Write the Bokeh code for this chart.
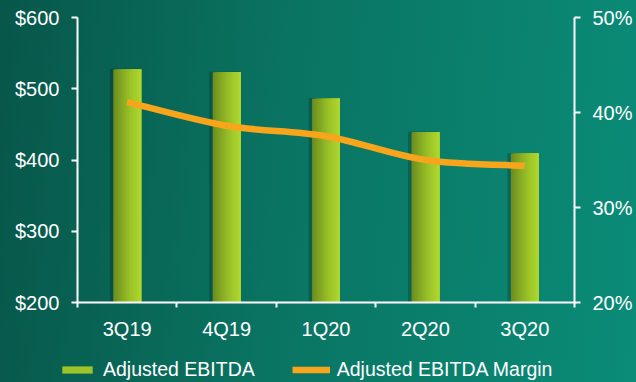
import numpy as np
from bokeh.plotting import figure
from bokeh.models import (Range1d, LinearAxis, FixedTicker, PrintfTickFormatter,
                          CustomJSTickFormatter, ColumnDataSource, Legend, LegendItem)
from bokeh.embed import file_html
from bokeh.resources import INLINE

# ---- data ----
quarters = ["3Q19", "4Q19", "1Q20", "2Q20", "3Q20"]
ebitda = [527, 523, 486, 439, 409]          # $ millions
margin_pct = [41.1, 38.6, 37.5, 35.0, 34.4]  # %
usd_ticks = [200, 300, 400, 500, 600]
pct_ticks = [20, 30, 40, 50]

FONT = "Liberation Sans"
WHITE = "#ffffff"
ORANGE = "#f9a51b"

# ---- layout: the frame covers the whole canvas, axes are pinned inside it ----
W, H = 636, 382
plot_l, plot_r, plot_t, plot_b = 77, 574, 17, 302   # pixel box of the axes area
ncat = len(quarters)
px_x = (plot_r - plot_l) / ncat
x_start = -plot_l / px_x
x_end = ncat + (W - plot_r) / px_x
usd_per_px = (usd_ticks[-1] - usd_ticks[0]) / (plot_b - plot_t)
y_start = usd_ticks[0] - (H - plot_b) * usd_per_px
y_end = usd_ticks[-1] + plot_t * usd_per_px
pct_per_px = (pct_ticks[-1] - pct_ticks[0]) / (plot_b - plot_t)
p_start = pct_ticks[0] - (H - plot_b) * pct_per_px
p_end = pct_ticks[-1] + plot_t * pct_per_px

p = figure(width=W, height=H, x_range=Range1d(x_start, x_end),
           y_range=Range1d(y_start, y_end),
           output_backend="svg", toolbar_location=None, min_border=0)
p.extra_y_ranges = {"pct": Range1d(p_start, p_end)}
p.background_fill_alpha = 0
p.border_fill_alpha = 0
p.outline_line_color = None
p.grid.visible = False
p.styles = {"background": "linear-gradient(95deg, #07574a 0%, #0a7462 45%, #0a8c78 100%)"}

# ---- bars drawn as overlapping gradient strips ----
centers = np.arange(ncat) + 0.5
bw = 0.28
nstrip = 16
c_left = np.array([0x6c, 0x8c, 0x1e])
c_mid = np.array([0x9a, 0xc2, 0x28])
c_right = np.array([0xb0, 0xd8, 0x2e])
sx, sw, stop, scol = [], [], [], []
for c, v in zip(centers, ebitda):
    right = c + bw / 2
    for k in range(nstrip):
        t = (k + 0.5) / nstrip
        if t < 0.6:
            col = c_left + (c_mid - c_left) * (t / 0.6)
        else:
            col = c_mid + (c_right - c_mid) * ((t - 0.6) / 0.4)
        left = c - bw / 2 + k * bw / nstrip
        sx.append((left + right) / 2)
        sw.append(right - left)
        stop.append(v)
        scol.append("#%02x%02x%02x" % tuple(int(round(x)) for x in col))

# shadow
p.vbar(x=centers - 0.02, top=[v + 1 for v in ebitda], bottom=usd_ticks[0], width=bw + 0.03,
       fill_color="black", fill_alpha=0.2, line_color=None)
strip_src = ColumnDataSource(dict(x=sx, w=sw, top=stop, color=scol))
bars = p.vbar(x="x", top="top", bottom=usd_ticks[0], width="w", source=strip_src,
              fill_color="color", line_color=None)

# ---- smooth margin line (Catmull-Rom bezier through data points) ----
pts = list(zip(centers, margin_pct))
x0, y0, x1, y1, cx0, cy0, cx1, cy1 = [], [], [], [], [], [], [], []
n = len(pts)
for i in range(n - 1):
    P0 = pts[max(i - 1, 0)]
    P1 = pts[i]
    P2 = pts[i + 1]
    P3 = pts[min(i + 2, n - 1)]
    x0.append(P1[0]); y0.append(P1[1])
    x1.append(P2[0]); y1.append(P2[1])
    cx0.append(P1[0] + (P2[0] - P0[0]) / 6); cy0.append(P1[1] + (P2[1] - P0[1]) / 6)
    cx1.append(P2[0] - (P3[0] - P1[0]) / 6); cy1.append(P2[1] - (P3[1] - P1[1]) / 6)
line = p.bezier(x0=x0, y0=y0, x1=x1, y1=y1, cx0=cx0, cy0=cy0, cx1=cx1, cy1=cy1,
                line_color=ORANGE, line_width=6.5, line_cap="butt", y_range_name="pct")

# ---- axes ----
def style_axis(ax):
    ax.axis_line_color = WHITE
    ax.axis_line_width = 2
    ax.major_tick_line_color = WHITE
    ax.major_tick_line_width = 2
    ax.minor_tick_line_color = WHITE
    ax.minor_tick_line_width = 2
    ax.major_label_text_color = WHITE
    ax.major_label_text_font = FONT
    ax.major_label_text_font_size = "20px"

xa = p.xaxis[0]
xa.ticker = FixedTicker(ticks=list(centers), minor_ticks=list(range(ncat + 1)))
xa.formatter = CustomJSTickFormatter(args=dict(labels=quarters),
                                     code="return labels[Math.floor(tick)] || '';")
style_axis(xa)
xa.fixed_location = usd_ticks[0]
xa.bounds = (0, ncat)
xa.major_tick_out = 0
xa.major_tick_in = 0
xa.minor_tick_out = 5
xa.minor_tick_in = 0
xa.major_label_standoff = 10

ya = p.yaxis[0]
ya.ticker = FixedTicker(ticks=usd_ticks)
ya.formatter = PrintfTickFormatter(format="$%d")
style_axis(ya)
ya.fixed_location = 0
ya.bounds = (usd_ticks[0], usd_ticks[-1])
ya.major_tick_out = 6
ya.major_tick_in = 0
ya.minor_tick_out = 0
ya.major_label_standoff = 12

yr = LinearAxis(y_range_name="pct", ticker=FixedTicker(ticks=pct_ticks),
                formatter=PrintfTickFormatter(format="%d%%"))
style_axis(yr)
yr.fixed_location = ncat
yr.bounds = (pct_ticks[0], pct_ticks[-1])
yr.major_tick_out = 6
yr.major_tick_in = 0
yr.minor_tick_out = 0
yr.major_label_standoff = 12
p.add_layout(yr, "right")

# ---- legend ----
legend = Legend(items=[LegendItem(label="Adjusted EBITDA", renderers=[bars], index=10),
                       LegendItem(label="Adjusted EBITDA Margin", renderers=[line])],
                orientation="horizontal", location=(58, 1),
                background_fill_alpha=0, border_line_color=None,
                label_text_color=WHITE, label_text_font=FONT, label_text_font_size="19.5px",
                glyph_width=38, glyph_height=9, label_standoff=7, spacing=37,
                padding=0, margin=0, label_height=20)
p.add_layout(legend, "center")

open("out.html", "w").write(file_html(p, INLINE))
